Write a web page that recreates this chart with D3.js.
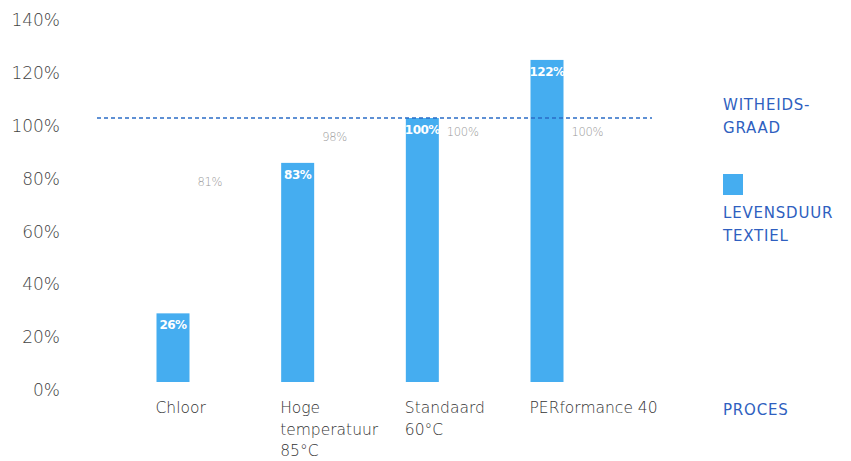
<!DOCTYPE html>
<html>
<head>
<meta charset="utf-8">
<script src="https://cdn.jsdelivr.net/npm/d3@7"></script>
<style>
  body { margin: 0; background: #fff; }
  svg { display: block; font-family: "DejaVu Sans", sans-serif; }
</style>
</head>
<body>
<div id="chart"></div>
<script>
// data
const categories = ['Chloor', 'Hoge temperatuur 85°C', 'Standaard 60°C', 'PERformance 40'];
const categoryLines = [['Chloor'], ['Hoge', 'temperatuur', '85°C'], ['Standaard', '60°C'], ['PERformance 40']];
const levensduur = [26, 83, 100, 122]; // bars, %
const witheid = [81, 98, 100, 100]; // grey numbers, %
const referenceLine = 100;
const yTicks = [0, 20, 40, 60, 80, 100, 120, 140];
const legendWhite = ['WITHEIDS-', 'GRAAD'];
const legendBar = ['LEVENSDUUR', 'TEXTIEL'];
const legendProcess = 'PROCES';

const width = 851;
const height = 461;
const barColor = '#45adf0';
const blueText = '#2f5fc0';

const svg = d3.select('#chart')
  .append('svg')
  .attr('width', width)
  .attr('height', height);

// scales
const yScale = d3.scaleLinear()
  .domain([0, 100])
  .range([382, 118]);

const xScale = d3.scalePoint()
  .domain(categories)
  .range([173, 547]);

const barWidth = 33;

// y axis, labels only (they sit a little below their value)
const yAxis = d3.axisLeft(yScale)
  .tickValues(yTicks)
  .tickSize(0)
  .tickPadding(3)
  .tickFormat((d) => d + '%');

const yAxisG = svg.append('g')
  .attr('transform', 'translate(63, 8)')
  .call(yAxis);
yAxisG.select('.domain').remove();
yAxisG.selectAll('text')
  .attr('font-family', '"DejaVu Sans", sans-serif')
  .attr('font-weight', 200)
  .attr('font-size', 17)
  .attr('fill', '#444');

// bars
const bars = svg.append('g').attr('class', 'bars');
bars.selectAll('rect')
  .data(levensduur)
  .join('rect')
  .attr('x', (d, i) => xScale(categories[i]) - barWidth / 2)
  .attr('y', (d) => yScale(d))
  .attr('width', barWidth)
  .attr('height', (d) => yScale(0) - yScale(d))
  .attr('fill', barColor);

// values inside the bars
bars.selectAll('text')
  .data(levensduur)
  .join('text')
  .attr('x', (d, i) => xScale(categories[i]))
  .attr('y', (d) => yScale(d) + 16)
  .attr('text-anchor', 'middle')
  .attr('font-size', 12)
  .attr('font-weight', 'bold')
  .attr('letter-spacing', -0.5)
  .attr('fill', '#fff')
  .text((d) => d + '%');

// dashed whiteness reference line
svg.append('line')
  .attr('x1', 97)
  .attr('x2', 652)
  .attr('y1', yScale(referenceLine))
  .attr('y2', yScale(referenceLine))
  .attr('stroke', '#2a6cc6')
  .attr('stroke-width', 1.3)
  .attr('stroke-dasharray', '4,3');

// grey whiteness numbers next to the bars
svg.append('g')
  .selectAll('text')
  .data(witheid)
  .join('text')
  .attr('x', (d, i) => xScale(categories[i]) + barWidth / 2 + 8)
  .attr('y', (d) => yScale(d) + 18)
  .attr('font-size', 11.5)
  .attr('font-weight', 200)
  .attr('letter-spacing', -0.3)
  .attr('fill', '#999')
  .text((d) => d + '%');

// category labels
const cats = svg.append('g')
  .selectAll('text')
  .data(categoryLines)
  .join('text')
  .attr('x', (d, i) => xScale(categories[i]) - barWidth / 2 - 1)
  .attr('y', 413)
  .attr('font-size', 15.5)
  .attr('font-weight', 200)
  .attr('fill', '#333');
cats.selectAll('tspan')
  .data((d) => d)
  .join('tspan')
  .attr('x', function () { return d3.select(this.parentNode).attr('x'); })
  .attr('dy', (d, i) => (i === 0 ? 0 : 21.5))
  .text((d) => d);

// legend
const legend = svg.append('g')
  .attr('font-size', 15)
  .attr('fill', blueText)
  .attr('letter-spacing', 0.8);

legend.append('text')
  .selectAll('tspan')
  .data(legendWhite)
  .join('tspan')
  .attr('x', 723)
  .attr('y', (d, i) => 110 + i * 23)
  .text((d) => d);

legend.append('rect')
  .attr('x', 723)
  .attr('y', 174)
  .attr('width', 20)
  .attr('height', 21)
  .attr('fill', barColor);

legend.append('text')
  .selectAll('tspan')
  .data(legendBar)
  .join('tspan')
  .attr('x', 723)
  .attr('y', (d, i) => 218 + i * 23)
  .text((d) => d);

legend.append('text')
  .attr('x', 723)
  .attr('y', 415)
  .text(legendProcess);
</script>
</body>
</html>
